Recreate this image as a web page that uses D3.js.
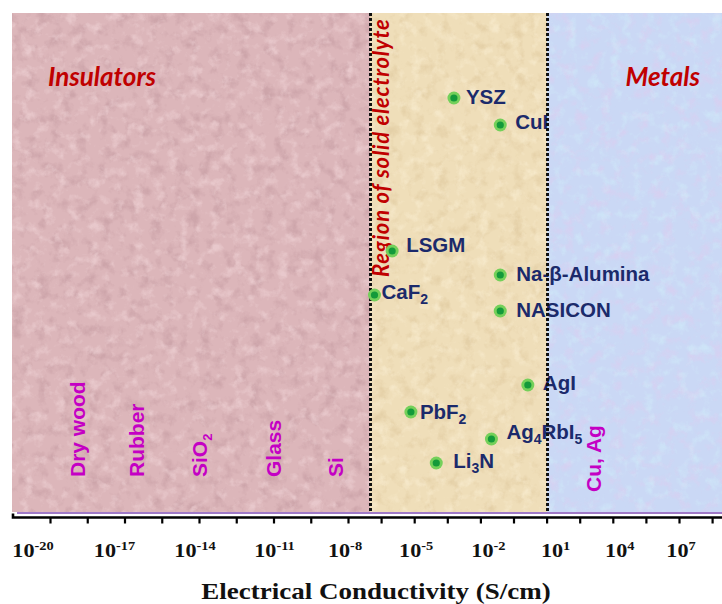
<!DOCTYPE html>
<html>
<head>
<meta charset="utf-8">
<script src="https://cdn.jsdelivr.net/npm/d3@7"></script>
<style>
  html, body { margin: 0; padding: 0; background: #fff; }
  svg { display: block; }
</style>
</head>
<body>
<div id="chart"></div>
<script>
// ---- data -------------------------------------------------------------
// Solid electrolytes: log10 of conductivity (S/cm) and their row in the map (0 top .. 100 bottom)
const electrolytes        = ["YSZ", "CuI", "LSGM", "Na-β-Alumina", "CaF_2", "NASICON", "AgI", "PbF_2", "Ag_4RbI_5", "Li_3N"];
const electrolyteLogSigma = [-3.2, -1.1, -6.0, -1.1, -6.8, -1.1, 0.15, -5.15, -1.5, -4.0];
const electrolyteRow      = [17, 22.4, 47.6, 52.4, 56.4, 59.6, 74.4, 79.8, 85.2, 90];

// Insulating and metallic reference materials
const insulators        = ["Dry wood", "Rubber", "SiO_2", "Glass", "Si"];
const insulatorLogSigma = [-18.9, -16.5, -14, -11, -8.5];
const metals            = ["Cu, Ag"];
const metalLogSigma     = [3.1];

// Conductivity bands (log10 S/cm)
const bandNames = ["Insulators", "Region of solid electrolyte", "Metals"];
const bandEdges = [-20.8, -7, 1, 9];

// Axis ticks (log10 S/cm): a mark every 1.5 decades, a label every 3 decades
const tickExponents  = d3.range(-20, 9, 1.5);
const labelExponents = [-20, -17, -14, -11, -8, -5, -2, 1, 4, 7];

// ---- layout -----------------------------------------------------------
const W = 722, H = 604;
const plotTop = 13, plotBottom = 512, plotLeft = 12, plotRight = 722;
const axisY = 517.5;

// label nudges for the electrolyte names (dx, dy from the dot)
const labelDx = [12, 15, 14, 16, 7, 16, 15, 9, 15, 17];
const labelDy = [-1, -3, -6, -1.5, -3, -1, -2, 0, -7, -2];
// horizontal nudges of the decade labels relative to their tick
const tickLabelDx = [-17, -10, -4, 1, -3, 2, 8, 9, 7, 2];

const svg = d3.select("#chart").append("svg")
  .attr("width", W).attr("height", H)
  .attr("viewBox", `0 0 ${W} ${H}`);

// conductivity axis (hand-scaled: the insulating decades are spread a bit wider)
const x = d3.scaleLog()
  .domain([1e-20, 1e-8, 1e7])
  .range([50, 348, 679]);
const xe = e => x(Math.pow(10, e));
const y = d3.scaleLinear().domain([0, 100]).range([plotTop, plotBottom + 1]);

// ---- paper textures ---------------------------------------------------
const defs = svg.append("defs");
function grain(id, rgb, freq, seed, k, c) {
  const f = defs.append("filter").attr("id", id)
    .attr("x", 0).attr("y", 0).attr("width", 1).attr("height", 1)
    .attr("color-interpolation-filters", "sRGB");
  f.append("feTurbulence").attr("type", "fractalNoise")
    .attr("baseFrequency", freq).attr("numOctaves", 4).attr("seed", seed);
  f.append("feColorMatrix").attr("type", "matrix")
    .attr("values", `0 0 0 0 ${rgb[0]} 0 0 0 0 ${rgb[1]} 0 0 0 0 ${rgb[2]} ${k} 0 0 0 ${c}`);
}
const bandStyle = [
  { base: "#dcb6ba", dark: [0.72, 0.55, 0.58], light: [0.96, 0.86, 0.87] },
  { base: "#efdeb9", dark: [0.84, 0.74, 0.56], light: [0.99, 0.95, 0.85] },
  { base: "#cad8f5", dark: [0.90, 0.78, 0.93], light: [0.82, 0.94, 0.98] }
];
bandStyle.forEach((s, i) => {
  grain(`dark${i}`, s.dark, 0.08, 3 + i, 3.0, -1.5);
  grain(`light${i}`, s.light, 0.09, 11 + i, -3.0, 1.45);
});

const bands = svg.append("g");
bandNames.forEach((name, i) => {
  const x0 = i === 0 ? plotLeft : Math.round(xe(bandEdges[i]));
  const x1 = i === bandNames.length - 1 ? plotRight : Math.round(xe(bandEdges[i + 1]));
  const g = bands.append("g");
  g.append("rect").attr("x", x0).attr("y", plotTop)
    .attr("width", x1 - x0).attr("height", plotBottom - plotTop)
    .attr("fill", bandStyle[i].base);
  g.append("rect").attr("x", x0).attr("y", plotTop)
    .attr("width", x1 - x0).attr("height", plotBottom - plotTop)
    .attr("filter", `url(#dark${i})`).attr("opacity", 0.4);
  g.append("rect").attr("x", x0).attr("y", plotTop)
    .attr("width", x1 - x0).attr("height", plotBottom - plotTop)
    .attr("filter", `url(#light${i})`).attr("opacity", 0.5);
});

// ---- helper: text with _digits subscripts -------------------------------
function richText(sel, str, subSize) {
  const parts = str.split(/_(\d+)/);
  let lowered = false;
  parts.forEach((p, j) => {
    if (!p) return;
    const ts = sel.append("tspan").text(p);
    if (j % 2 === 1) {
      ts.attr("font-size", subSize).attr("dy", 5);
      lowered = true;
    } else if (lowered) {
      ts.attr("dy", -5);
      lowered = false;
    }
  });
}

// ---- band titles ------------------------------------------------------
const titleFont = "Lato, 'Open Sans', sans-serif";
svg.append("text")
  .attr("x", 48).attr("y", 86)
  .attr("font-family", titleFont).attr("font-weight", 700).attr("font-style", "italic")
  .attr("font-size", 26).attr("fill", "#c00000")
  .text(bandNames[0]);
svg.append("text")
  .attr("x", 700).attr("y", 86).attr("text-anchor", "end")
  .attr("font-family", titleFont).attr("font-weight", 700).attr("font-style", "italic")
  .attr("font-size", 26).attr("fill", "#c00000")
  .text(bandNames[2]);
svg.append("text")
  .attr("transform", `translate(${xe(bandEdges[1]) + 19},277) rotate(-90)`)
  .attr("font-family", titleFont).attr("font-weight", 700).attr("font-style", "italic")
  .attr("font-size", 22).attr("letter-spacing", 0.8).attr("fill", "#c00000")
  .text(bandNames[1]);

// ---- reference materials (vertical magenta labels) ----------------------
const refFont = "'Liberation Sans', Arial, sans-serif";
function verticalLabels(names, values, baseY) {
  names.forEach((n, i) => {
    const t = svg.append("text")
      .attr("transform", `translate(${xe(values[i])},${baseY}) rotate(-90)`)
      .attr("dy", "0.36em")
      .attr("font-family", refFont).attr("font-weight", 700)
      .attr("font-size", 21).attr("fill", "#c400c4");
    richText(t, n, 13);
  });
}
verticalLabels(insulators, insulatorLogSigma, 477);
verticalLabels(metals, metalLogSigma, 492);

// ---- electrolyte labels ---------------------------------------------------
const labels = svg.append("g");
electrolytes.forEach((n, i) => {
  const t = labels.append("text")
    .attr("x", xe(electrolyteLogSigma[i]) + labelDx[i])
    .attr("y", y(electrolyteRow[i]) + labelDy[i] + 7.4)
    .attr("font-family", refFont).attr("font-weight", 700)
    .attr("font-size", 20.5).attr("fill", "#1b2a6b");
  richText(t, n, 14);
});

// ---- boundaries of the solid-electrolyte band ---------------------------
svg.append("g").selectAll("line")
  .data([bandEdges[1], bandEdges[2]])
  .join("line")
  .attr("x1", d => Math.round(xe(d)) + 0.5).attr("x2", d => Math.round(xe(d)) + 0.5)
  .attr("y1", plotTop).attr("y2", plotBottom + 1)
  .attr("stroke", "#111").attr("stroke-width", 3)
  .attr("stroke-dasharray", "3,2");

// ---- electrolyte dots ---------------------------------------------------
const dots = svg.append("g");
dots.selectAll("circle.halo")
  .data(electrolytes)
  .join("circle").attr("class", "halo")
  .attr("cx", (d, i) => xe(electrolyteLogSigma[i]))
  .attr("cy", (d, i) => y(electrolyteRow[i]))
  .attr("r", 6.5).attr("fill", "#74d05a");
dots.selectAll("circle.core")
  .data(electrolytes)
  .join("circle").attr("class", "core")
  .attr("cx", (d, i) => xe(electrolyteLogSigma[i]))
  .attr("cy", (d, i) => y(electrolyteRow[i]))
  .attr("r", 3.6).attr("fill", "#139a3a");

// ---- baseline strips and axis -------------------------------------------
svg.append("line").attr("x1", 17).attr("x2", W).attr("y1", 513).attr("y2", 513)
  .attr("stroke", "#a07ac8").attr("stroke-width", 2);
svg.append("line").attr("x1", 17).attr("x2", W).attr("y1", 515).attr("y2", 515)
  .attr("stroke", "#fff").attr("stroke-width", 2);

const axis = d3.axisBottom(x)
  .tickValues(tickExponents.map(e => Math.pow(10, e)))
  .tickSize(6)
  .tickSizeOuter(0)
  .tickFormat("");
const ax = svg.append("g").attr("transform", `translate(0,${axisY})`).call(axis);
ax.select(".domain").attr("d", `M${plotLeft + 1},-4V0H${W}`)
  .attr("stroke", "#000").attr("stroke-width", 2.6).attr("fill", "none");
ax.selectAll(".tick line").attr("stroke", "#000").attr("stroke-width", 2.2);

// tick labels: 10 with superscript exponent
const serif = "'Liberation Serif', 'Times New Roman', serif";
labelExponents.forEach((e, i) => {
  const t = svg.append("text")
    .attr("transform", `translate(${xe(e) + tickLabelDx[i]},557) scale(1.2,1)`)
    .attr("text-anchor", "middle")
    .attr("font-family", serif).attr("font-weight", 700)
    .attr("font-size", 18.5).attr("fill", "#111");
  t.append("tspan").text("10");
  t.append("tspan").attr("font-size", 12).attr("dy", -7).text(e);
});

// axis title
svg.append("text")
  .attr("transform", `translate(376,599) scale(1.2,1)`)
  .attr("text-anchor", "middle")
  .attr("font-family", serif).attr("font-weight", 700)
  .attr("font-size", 22.5).attr("fill", "#111")
  .text("Electrical Conductivity (S/cm)");
</script>
</body>
</html>
